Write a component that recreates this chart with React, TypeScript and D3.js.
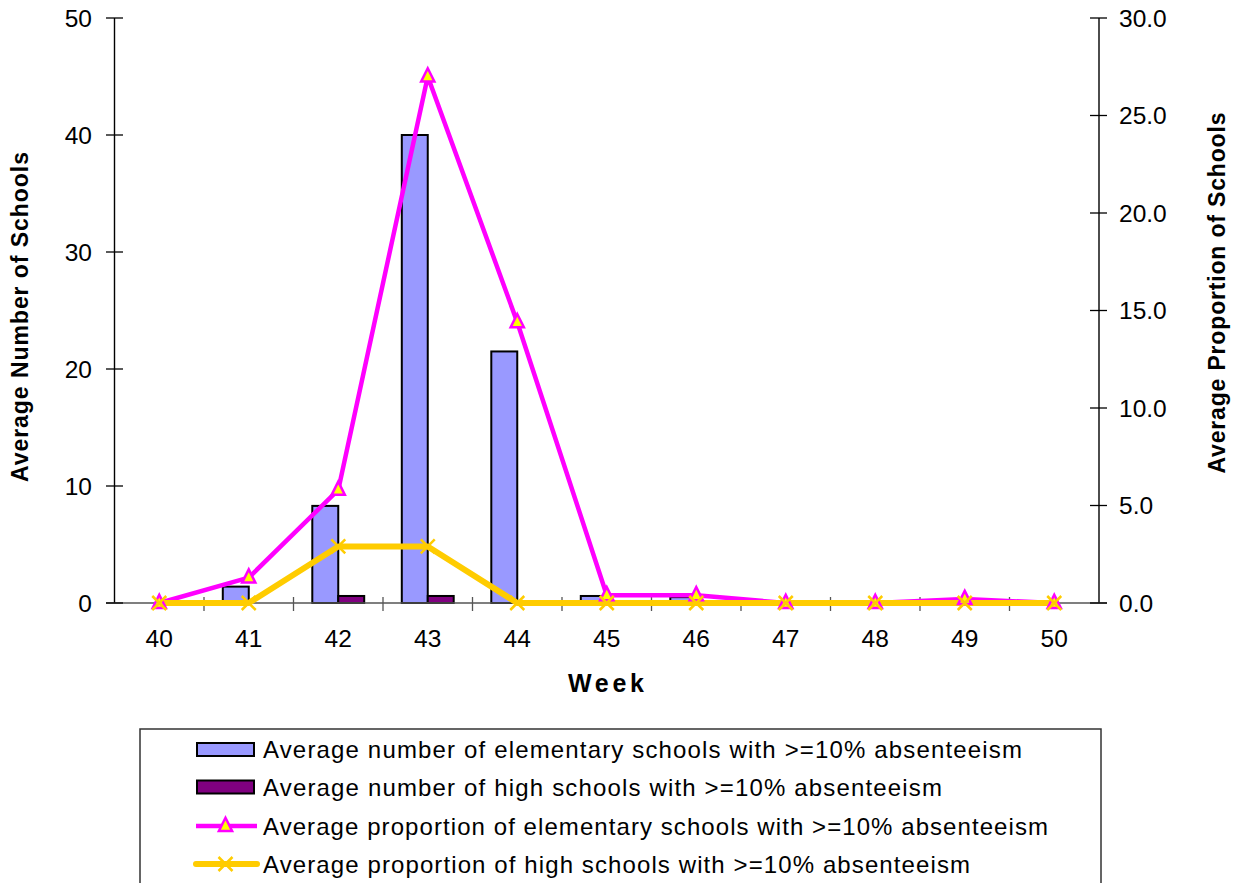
import * as d3 from "d3";

const weeks = ["40", "41", "42", "43", "44", "45", "46", "47", "48", "49", "50"];
const elemCount = [0, 1.4, 8.3, 40, 21.5, 0.6, 0.5, 0, 0, 0, 0];
const highCount = [0, 0, 0.6, 0.6, 0, 0, 0, 0, 0, 0, 0];
const elemProp = [0, 1.3, 5.8, 27.0, 14.4, 0.4, 0.4, 0, 0, 0.2, 0];
const highProp = [0, 0, 2.9, 2.9, 0, 0, 0, 0, 0, 0, 0];
const leftTicks = [0, 10, 20, 30, 40, 50];
const rightTicks = [0, 5, 10, 15, 20, 25, 30];
const legendLabels = [
	"Average number of elementary schools with >=10% absenteeism",
	"Average number of high schools with >=10% absenteeism",
	"Average proportion of elementary schools with >=10% absenteeism",
	"Average proportion of high schools with >=10% absenteeism",
];

const font = "'Liberation Sans', Arial, sans-serif";

function App() {
	const left = 114.5;
	const right = 1099;
	const top = 18;
	const bottom = 603;

	const x = d3.scaleBand<string>().domain(weeks).range([left, right]).padding(0);
	const yL = d3.scaleLinear().domain([0, 50]).range([bottom, top]);
	const yR = d3.scaleLinear().domain([0, 30]).range([bottom, top]);
	const barW = x.bandwidth() * 0.29;
	const cx = (w: string) => (x(w) as number) + x.bandwidth() / 2;

	const propLine = d3
		.line<number>()
		.x((_, i) => cx(weeks[i]))
		.y((d) => yR(d));

	const tri = (px: number, py: number, s: number) =>
		`M${px},${py - s * 0.75}L${px + s * 0.6},${py + s * 0.45}L${px - s * 0.6},${py + s * 0.45}Z`;
	const cross = (px: number, py: number, s: number) =>
		`M${px - s},${py - s}L${px + s},${py + s}M${px - s},${py + s}L${px + s},${py - s}`;

	const legendWidths = [759, 679, 785, 707];
	const legendY = [749.5, 787, 826, 864];

	return (
		<svg
			width={1240}
			height={883}
			style={{ position: "absolute", left: 0, top: 0, background: "white" }}
			fontFamily={font}
		>
			{/* bars */}
			{weeks.map((w, i) => (
				<g key={"b" + w}>
					{elemCount[i] > 0 && (
						<rect
							x={cx(w) - barW}
							y={yL(elemCount[i])}
							width={barW}
							height={bottom - yL(elemCount[i])}
							fill="#9999FF"
							stroke="#000"
							strokeWidth={2}
						/>
					)}
					{highCount[i] > 0 && (
						<rect
							x={cx(w)}
							y={yL(highCount[i])}
							width={barW}
							height={bottom - yL(highCount[i])}
							fill="#800080"
							stroke="#000"
							strokeWidth={2}
						/>
					)}
				</g>
			))}

			{/* axes */}
			<line x1={left} x2={left} y1={top} y2={bottom} stroke="#000" strokeWidth={1.4} />
			<line x1={right} x2={right} y1={top} y2={bottom} stroke="#000" strokeWidth={1.4} />
			<line x1={106} x2={1107} y1={bottom} y2={bottom} stroke="#555" strokeWidth={1.5} />
			{leftTicks.map((t) => (
				<g key={"l" + t}>
					<line x1={106} x2={123} y1={yL(t)} y2={yL(t)} stroke="#000" strokeWidth={1.3} />
					<text x={92} y={yL(t)} dy="0.36em" textAnchor="end" fontSize={24.5}>
						{t}
					</text>
				</g>
			))}
			{rightTicks.map((t) => (
				<g key={"r" + t}>
					<line x1={1090} x2={1107} y1={yR(t)} y2={yR(t)} stroke="#000" strokeWidth={1.3} />
					<text x={1119} y={yR(t)} dy="0.36em" textAnchor="start" fontSize={24.5}>
						{t.toFixed(1)}
					</text>
				</g>
			))}
			{weeks.map((w, i) => (
				<g key={"x" + w}>
					{i > 0 && (
						<line
							x1={x(w) as number}
							x2={x(w) as number}
							y1={597}
							y2={611}
							stroke="#555"
							strokeWidth={1.3}
						/>
					)}
					<text x={cx(w)} y={647} textAnchor="middle" fontSize={24.5}>
						{w}
					</text>
				</g>
			))}
			<text x={606} y={692} textAnchor="middle" fontSize={25} fontWeight="bold" textLength={76}>
				Week
			</text>
			<text
				transform="translate(28,317) rotate(-90)"
				textAnchor="middle"
				fontSize={23}
				fontWeight="bold"
				textLength={330}
			>
				Average Number of Schools
			</text>
			<text
				transform="translate(1225,293) rotate(-90)"
				textAnchor="middle"
				fontSize={23}
				fontWeight="bold"
				textLength={361}
			>
				Average Proportion of Schools
			</text>

			{/* lines */}
			<path d={propLine(elemProp) ?? ""} fill="none" stroke="#FF00FF" strokeWidth={4.5} strokeLinejoin="round" />
			<path d={propLine(highProp) ?? ""} fill="none" stroke="#FFCC00" strokeWidth={6} strokeLinejoin="round" />
			{elemProp.map((v, i) => (
				<path key={"t" + i} d={tri(cx(weeks[i]), yR(v), 11)} fill="#FFFF00" stroke="#FF00FF" strokeWidth={2.5} />
			))}
			{highProp.map((v, i) => (
				<path key={"c" + i} d={cross(cx(weeks[i]), yR(v), 7)} stroke="#FFCC00" strokeWidth={2.5} />
			))}

			{/* legend */}
			<rect x={140} y={729} width={961} height={180} fill="none" stroke="#333" strokeWidth={1.5} />
			<rect x={197} y={743} width={57} height={13} fill="#9999FF" stroke="#000" strokeWidth={2} />
			<rect x={197} y={780.5} width={57} height={13} fill="#800080" stroke="#000" strokeWidth={2} />
			<line x1={196} x2={257} y1={legendY[2]} y2={legendY[2]} stroke="#FF00FF" strokeWidth={4.5} />
			<path d={tri(225.5, legendY[2], 11)} fill="#FFFF00" stroke="#FF00FF" strokeWidth={2.5} />
			<line x1={196} x2={257} y1={legendY[3]} y2={legendY[3]} stroke="#FFCC00" strokeWidth={6} strokeLinecap="round" />
			<path d={cross(225.5, legendY[3], 7)} stroke="#FFCC00" strokeWidth={2.5} />
			{legendLabels.map((l, i) => (
				<text
					key={"lg" + i}
					x={263}
					y={legendY[i]}
					dy="0.36em"
					fontSize={24}
					textLength={legendWidths[i]}
				>
					{l}
				</text>
			))}
		</svg>
	);
}

export default App;
